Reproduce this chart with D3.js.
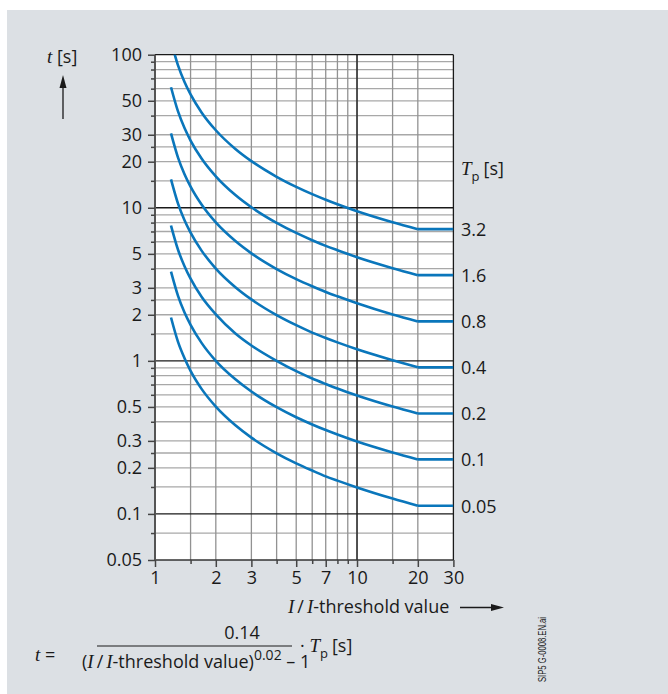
<!DOCTYPE html>
<html><head><meta charset="utf-8">
<script src="https://cdn.jsdelivr.net/npm/d3@7"></script>
<style>
html,body{margin:0;padding:0;background:#fff;}
svg{display:block;}
text{font-family:"Open Sans","Noto Sans",sans-serif;fill:#1a1a1a;}
.it{font-family:"Liberation Serif","DejaVu Serif",serif;font-style:italic;}
</style></head>
<body>
<script>
// ---- data ----
const currentMultiples = [1.2,1.3,1.4,1.5,1.7,2,2.5,3,4,5,6,7,8,10,15,20,30];
const tpLabels = ["3.2","1.6","0.8","0.4","0.2","0.1","0.05"];
const tp320 = [122.6,85.15,66.34,55.01,41.98,32.10,24.22,20.17,15.94,13.70,12.28,11.29,10.55,9.50,8.05,7.25,7.25];
const tp160 = [61.31,42.58,33.17,27.50,20.99,16.05,12.11,10.08,7.97,6.85,6.14,5.64,5.28,4.75,4.03,3.63,3.63];
const tp080 = [30.66,21.29,16.58,13.75,10.50,8.02,6.06,5.04,3.98,3.42,3.07,2.82,2.64,2.38,2.01,1.81,1.81];
const tp040 = [15.33,10.64,8.29,6.88,5.25,4.01,3.03,2.52,1.99,1.71,1.53,1.41,1.32,1.19,1.01,0.907,0.907];
const tp020 = [7.66,5.32,4.15,3.44,2.62,2.01,1.51,1.26,1.00,0.856,0.767,0.706,0.659,0.594,0.503,0.453,0.453];
const tp010 = [3.83,2.66,2.07,1.72,1.31,1.00,0.757,0.630,0.498,0.428,0.384,0.353,0.330,0.297,0.252,0.227,0.227];
const tp005 = [1.92,1.33,1.04,0.860,0.656,0.502,0.379,0.315,0.249,0.214,0.192,0.176,0.165,0.149,0.126,0.113,0.113];
const seriesValues = [tp320,tp160,tp080,tp040,tp020,tp010,tp005];

const xTickLabels = [1,2,3,5,7,10,20,30];
const xGridValues = [1.5,2,3,4,5,6,7,8,9,10,15,20];
const xMinorTicks = [1.5,4,6,8,9,15];
const xMajorLines = [10];
const yTickLabels = [100,50,30,20,10,5,3,2,1,0.5,0.3,0.2,0.1,0.05];
const yGridValues = [90,80,70,60,50,40,30,25,20,15,9,8,7,6,5,4,3,2.5,2,1.5,0.9,0.8,0.7,0.6,0.5,0.4,0.3,0.25,0.2,0.15,0.075];
const yMinorTicks = [90,80,70,60,40,25,15,9,8,7,6,4,2.5,1.5,0.9,0.8,0.7,0.6,0.4,0.25,0.15,0.075];
const yMajorLines = [10,1,0.1];

// ---- layout ----
const W = 668, H = 694;
const L = 155, R = 453.4, T = 54.7, B = 560;
const FS = "18px", FI = "19px";
const svg = d3.select("body").append("svg").attr("width",W).attr("height",H);
svg.append("rect").attr("x",0).attr("y",0).attr("width",W).attr("height",H).attr("fill","#fff");
svg.append("rect").attr("x",7).attr("y",10).attr("width",W-7).attr("height",H-10).attr("fill","#dce0e4");

const x = d3.scaleLog().domain([1,30]).range([L,R]);
const y = d3.scaleLog().domain([0.05,100]).range([B,T]);

svg.append("rect").attr("x",L).attr("y",T).attr("width",R-L).attr("height",B-T).attr("fill","#fff");

// grid
const g = svg.append("g");
g.selectAll(".hg").data(yGridValues).join("line")
  .attr("x1",L).attr("x2",R).attr("y1",d=>y(d)).attr("y2",d=>y(d))
  .attr("stroke","#a8a8a8").attr("stroke-width",1.3);
g.selectAll(".vg").data(xGridValues).join("line")
  .attr("x1",d=>x(d)).attr("x2",d=>x(d)).attr("y1",T).attr("y2",B)
  .attr("stroke","#929292").attr("stroke-width",1.3);
g.selectAll(".hm").data(yMajorLines).join("line")
  .attr("x1",L).attr("x2",R).attr("y1",d=>y(d)).attr("y2",d=>y(d))
  .attr("stroke","#1a1a1a").attr("stroke-width",1.3);
g.selectAll(".vm").data(xMajorLines).join("line")
  .attr("x1",d=>x(d)).attr("x2",d=>x(d)).attr("y1",T).attr("y2",B)
  .attr("stroke","#1a1a1a").attr("stroke-width",1.3);
// frame
svg.append("line").attr("x1",L).attr("x2",R).attr("y1",T).attr("y2",T).attr("stroke","#1a1a1a").attr("stroke-width",1.3);
svg.append("line").attr("x1",R).attr("x2",R).attr("y1",T).attr("y2",B).attr("stroke","#1a1a1a").attr("stroke-width",1.3);
svg.append("line").attr("x1",L).attr("x2",R).attr("y1",B).attr("y2",B).attr("stroke","#333").attr("stroke-width",1.6);
svg.append("line").attr("x1",L).attr("x2",L).attr("y1",T).attr("y2",B+1).attr("stroke","#555").attr("stroke-width",2);

// axes
function styleAxis(sel){
  sel.select(".domain").remove();
  sel.selectAll(".tick line").attr("stroke","#444").attr("stroke-width",1.5);
  sel.selectAll(".tick text").style("font-size",FS).style("font-family","'Open Sans','Noto Sans',sans-serif").attr("fill","#1a1a1a");
}
const fmt = d=>String(d);
svg.append("g").attr("transform",`translate(${L},0)`)
  .call(d3.axisLeft(y).tickValues(yTickLabels).tickFormat(fmt).tickSize(7).tickPadding(6))
  .call(styleAxis);
svg.append("g").attr("transform",`translate(${L},0)`)
  .call(d3.axisLeft(y).tickValues(yMinorTicks).tickFormat("").tickSize(4))
  .call(styleAxis);
svg.append("g").attr("transform",`translate(0,${B})`)
  .call(d3.axisBottom(x).tickValues(xTickLabels).tickFormat(fmt).tickSize(7).tickPadding(4))
  .call(styleAxis);
svg.append("g").attr("transform",`translate(0,${B})`)
  .call(d3.axisBottom(x).tickValues(xMinorTicks).tickFormat("").tickSize(4))
  .call(styleAxis);

// curves
svg.append("clipPath").attr("id","plotclip").append("rect")
  .attr("x",L).attr("y",T).attr("width",R-L).attr("height",B-T);
const cg = svg.append("g").attr("clip-path","url(#plotclip)");
const n = currentMultiples.length;
const lineCurve = d3.line().x(d=>x(d[0])).y(d=>y(d[1])).curve(d3.curveMonotoneX);
const lineFlat = d3.line().x(d=>x(d[0])).y(d=>y(d[1]));
seriesValues.forEach(vals=>{
  const pts = currentMultiples.map((m,i)=>[m,vals[i]]);
  cg.append("path").attr("d",lineCurve(pts.slice(0,n-1)))
    .attr("fill","none").attr("stroke","#0a76bb").attr("stroke-width",2.6);
  cg.append("path").attr("d",lineFlat(pts.slice(n-2)))
    .attr("fill","none").attr("stroke","#0a76bb").attr("stroke-width",2.6);
});

// right labels
seriesValues.forEach((vals,i)=>{
  svg.append("text").attr("x",461).attr("y",y(vals[n-1]))
    .attr("dominant-baseline","central").style("font-size",FS).text(tpLabels[i]);
});
const tpT = svg.append("text").attr("x",461).attr("y",175).style("font-size",FS);
tpT.append("tspan").attr("class","it").style("font-size",FI).text("T");
tpT.append("tspan").attr("dy",6).style("font-size","13px").text("p");
tpT.append("tspan").attr("dy",-6).attr("dx",4).text("[s]");

// y title
const tt = svg.append("text").attr("x",47).attr("y",63).style("font-size",FS);
tt.append("tspan").attr("class","it").style("font-size",FI).text("t");
tt.append("tspan").text(" [s]");
svg.append("line").attr("x1",63).attr("x2",63).attr("y1",119).attr("y2",84).attr("stroke","#1a1a1a").attr("stroke-width",1.3);
svg.append("path").attr("d","M63,75 L59.5,88 L66.5,88 Z").attr("fill","#1a1a1a");

// x title
const xt = svg.append("text").attr("x",288).attr("y",613).style("font-size",FS);
xt.append("tspan").attr("class","it").style("font-size",FI).text("I");
xt.append("tspan").text("\u2009/\u2009");
xt.append("tspan").attr("class","it").style("font-size",FI).text("I");
xt.append("tspan").text("-threshold value");
svg.append("line").attr("x1",460).attr("x2",495).attr("y1",607.5).attr("y2",607.5).attr("stroke","#1a1a1a").attr("stroke-width",1.3);
svg.append("path").attr("d","M504,607.5 L491,604 L491,611 Z").attr("fill","#1a1a1a");

// formula
const f1 = svg.append("text").attr("x",35).attr("y",661).style("font-size",FS);
f1.append("tspan").attr("class","it").style("font-size",FI).text("t");
f1.append("tspan").text(" =");
svg.append("text").attr("x",242).attr("y",639).attr("text-anchor","middle").style("font-size",FS).text("0.14");
svg.append("line").attr("x1",97).attr("x2",292).attr("y1",646).attr("y2",646).attr("stroke","#1a1a1a").attr("stroke-width",1.2);
const den = svg.append("text").attr("x",82).attr("y",668).style("font-size",FS);
den.append("tspan").text("(");
den.append("tspan").attr("class","it").style("font-size",FI).text("I");
den.append("tspan").text("\u2009/\u2009");
den.append("tspan").attr("class","it").style("font-size",FI).text("I");
den.append("tspan").text("-threshold value)");
den.append("tspan").attr("dy",-8).style("font-size","14px").text("0.02");
den.append("tspan").attr("dy",8).text(" \u2013 1");
const f2 = svg.append("text").attr("x",300).attr("y",652).style("font-size",FS);
f2.append("tspan").text("\u00b7 ");
f2.append("tspan").attr("class","it").style("font-size",FI).text("T");
f2.append("tspan").attr("dy",6).style("font-size","13px").text("p");
f2.append("tspan").attr("dy",-6).attr("dx",4).text("[s]");

// file id
svg.append("text").attr("transform","translate(546,682) rotate(-90)")
  .attr("textLength",65).attr("lengthAdjust","spacingAndGlyphs")
  .style("font-family","'Liberation Sans Narrow','Liberation Sans',sans-serif")
  .style("font-size","11px").attr("fill","#333").text("SIP5 G-0008.EN.ai");
</script>
</body></html>
